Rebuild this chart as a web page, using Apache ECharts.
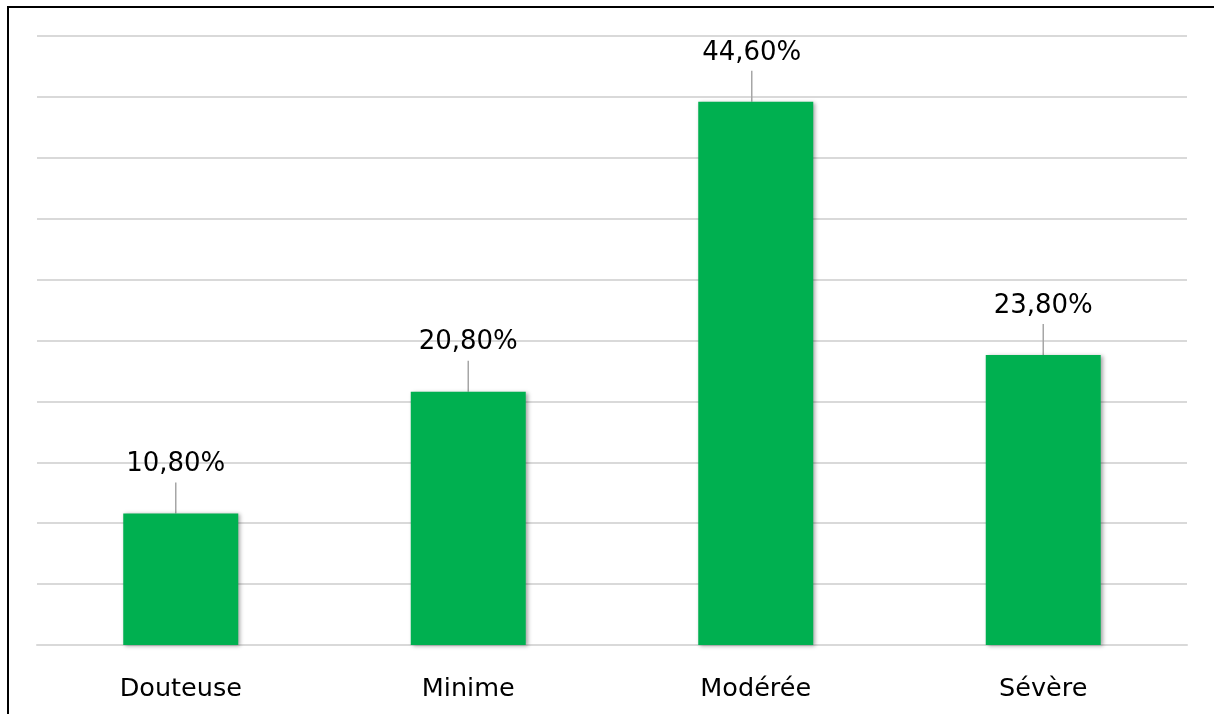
<!DOCTYPE html>
<html>
<head>
<meta charset="utf-8">
<script src="https://cdn.jsdelivr.net/npm/echarts@6/dist/echarts.min.js"></script>
<style>
  html, body { margin: 0; padding: 0; background: #fff; }
  #frame {
    position: absolute; left: 7px; top: 6px; right: 0; bottom: 0;
    border-left: 2px solid #000; border-top: 2px solid #000;
  }
  #chart { position: absolute; left: 0; top: 0; width: 1214px; height: 714px; }
</style>
</head>
<body>
<div id="frame"></div>
<div id="chart"></div>
<script>
// Severity categories and their shares (%)
const categories = ['Douteuse', 'Minime', 'Modérée', 'Sévère'];
const shares = [10.8, 20.8, 44.6, 23.8];
// Small horizontal nudges of the callout labels
const labelShiftX = [-5, 0, -4, 0];

const chart = echarts.init(document.getElementById('chart'), null, { renderer: 'canvas' });

const fmt = v => v.toFixed(2).replace('.', ',') + '%';

chart.setOption({
  animation: false,
  grid: { left: 37, right: 27, top: 36, bottom: 69 },
  xAxis: {
    type: 'category',
    data: categories,
    axisTick: { show: false },
    axisLine: { show: true, lineStyle: { color: '#d9d9d9', width: 2 } },
    axisLabel: {
      margin: 31,
      color: '#000',
      fontFamily: 'DejaVu Sans',
      fontSize: 25.5
    }
  },
  yAxis: {
    type: 'value',
    min: 0,
    max: 50,
    interval: 5,
    axisLabel: { show: false },
    axisLine: { show: false },
    axisTick: { show: false },
    splitLine: { lineStyle: { color: '#d9d9d9', width: 2 } }
  },
  series: [{
    type: 'bar',
    data: shares,
    barWidth: '40%',
    itemStyle: {
      color: '#00B050',
      shadowColor: 'rgba(0,0,0,0.35)',
      shadowBlur: 4,
      shadowOffsetX: 2,
      shadowOffsetY: 1
    },
    label: {
      show: true,
      position: 'top',
      distance: 4,
      color: '#000',
      fontFamily: 'DejaVu Sans',
      fontSize: 26,
      lineHeight: 26,
      padding: [0, 0, 5, 0],
      formatter: p => fmt(p.value)
    },
    labelLine: {
      show: true,
      lineStyle: { color: '#a6a6a6', width: 1.5 }
    },
    labelLayout: p => ({ dx: labelShiftX[p.dataIndex], dy: -27 })
  }]
});
</script>
</body>
</html>
